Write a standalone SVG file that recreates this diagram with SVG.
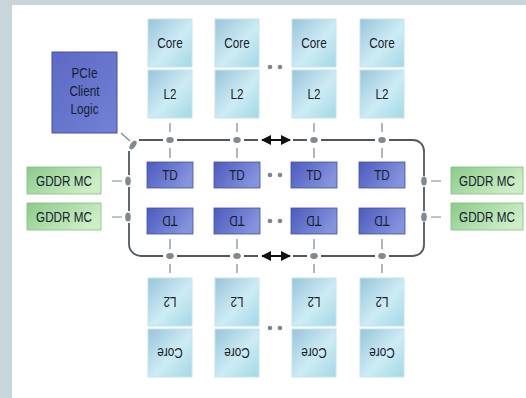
<svg xmlns="http://www.w3.org/2000/svg" width="526" height="398" viewBox="0 0 526 398">
  <defs>
    <linearGradient id="gCache" x1="0" y1="0" x2="1" y2="1">
      <stop offset="0" stop-color="#98c4da"/>
      <stop offset="0.55" stop-color="#cdecf4"/>
      <stop offset="1" stop-color="#a2d8e7"/>
    </linearGradient>
    <linearGradient id="gTD" x1="0" y1="0" x2="1" y2="0.4">
      <stop offset="0" stop-color="#4b5bbd"/>
      <stop offset="1" stop-color="#8393dd"/>
    </linearGradient>
    <linearGradient id="gPCIe" x1="0" y1="0" x2="1" y2="1">
      <stop offset="0" stop-color="#5c6ac5"/>
      <stop offset="1" stop-color="#7280d5"/>
    </linearGradient>
    <linearGradient id="gMC" x1="0" y1="0" x2="1" y2="0.5">
      <stop offset="0" stop-color="#8aca8a"/>
      <stop offset="1" stop-color="#cdeec5"/>
    </linearGradient>
    <marker id="ah" viewBox="0 0 10 10" refX="9" refY="5" markerWidth="5" markerHeight="5" orient="auto-start-reverse">
      <path d="M0,0 L10,5 L0,10 Z" fill="#111"/>
    </marker>
  </defs>
  <style>
    .cache { fill: url(#gCache); stroke: #c4e4ee; stroke-width: 1; }
    .td { fill: url(#gTD); stroke: #4150a8; stroke-width: 0.8; }
    .mc { fill: url(#gMC); stroke: #7fbf7f; stroke-width: 0.8; }
    .pcie { fill: url(#gPCIe); stroke: #44509f; stroke-width: 1; }
    .lbl { font-family: "Liberation Sans", Arial, sans-serif; font-size: 15px; fill: #18202e; text-anchor: middle; dominant-baseline: central; }
    .bus { stroke: #50585e; stroke-width: 1.8; fill: none; }
    .tap { stroke: #7e878d; stroke-width: 1.2; fill: none; }
    .dot { fill: #7d868c; }
    .ell { fill: #80898f; }
  </style>

  <!-- page background -->
  <rect x="0" y="0" width="526" height="398" fill="#c9d4db"/>
  <rect x="12" y="5" width="514" height="393" fill="#ffffff"/>

  <!-- ring bus, taps and junctions -->
  <g id="connectors">
    <!-- top bus segments -->
    <path class="bus" d="M139,140 H163 M177,140 H230 M244,140 H258 M293,140 H307 M321,140 H375 M389,140 H413 A11,11 0 0 1 424,151 V176"/>
    <!-- bottom bus segments -->
    <path class="bus" d="M424,187 V211 M424,222 V245 A11,11 0 0 1 413,256 H389 M375,256 H321 M307,256 H293 M258,256 H244 M230,256 H177 M163,256 H141 A12,12 0 0 1 129,244 V223 M129,211 V187 M129,175 V151"/>
    <!-- double arrows on the bus -->
    <line x1="262" y1="140" x2="290" y2="140" stroke="#111" stroke-width="2" marker-start="url(#ah)" marker-end="url(#ah)"/>
    <line x1="262" y1="256" x2="290" y2="256" stroke="#111" stroke-width="2" marker-start="url(#ah)" marker-end="url(#ah)"/>
    <!-- PCIe link -->
    <line class="tap" x1="121" y1="133" x2="130" y2="141"/>
    <ellipse class="ell" cx="133" cy="145" rx="2.6" ry="5" transform="rotate(35 133 145)"/>
    <!-- memory controller taps -->
    <path class="tap" d="M112,181 H122 M112,217 H122 M431,181 H441 M431,217 H441"/>
    <ellipse class="ell" cx="128" cy="181" rx="2.8" ry="4.6"/>
    <ellipse class="ell" cx="128" cy="217" rx="2.8" ry="4.6"/>
    <ellipse class="ell" cx="424" cy="181" rx="2.8" ry="4.6"/>
    <ellipse class="ell" cx="424" cy="217" rx="2.8" ry="4.6"/>
    <!-- column taps: L2 to bus to TD -->
    <path class="tap" d="M170,123 V132 M170,148 V158 M237,123 V132 M237,148 V158 M314,123 V132 M314,148 V158 M382,123 V132 M382,148 V158"/>
    <path class="tap" d="M170,239 V249 M170,264 V273 M237,239 V249 M237,264 V273 M314,239 V249 M314,264 V273 M382,239 V249 M382,264 V273"/>
    <g class="ell">
      <ellipse cx="170" cy="140" rx="3.8" ry="3"/>
      <ellipse cx="237" cy="140" rx="3.8" ry="3"/>
      <ellipse cx="314" cy="140" rx="3.8" ry="3"/>
      <ellipse cx="382" cy="140" rx="3.8" ry="3"/>
      <ellipse cx="170" cy="256" rx="3.8" ry="3"/>
      <ellipse cx="237" cy="256" rx="3.8" ry="3"/>
      <ellipse cx="314" cy="256" rx="3.8" ry="3"/>
      <ellipse cx="382" cy="256" rx="3.8" ry="3"/>
    </g>
    <!-- ellipsis dots between columns -->
    <g class="dot">
      <circle cx="270" cy="67" r="2.3"/><circle cx="280" cy="67" r="2.3"/>
      <circle cx="270" cy="175" r="2.3"/><circle cx="280" cy="175" r="2.3"/>
      <circle cx="270" cy="221" r="2.3"/><circle cx="280" cy="221" r="2.3"/>
      <circle cx="270" cy="328" r="2.3"/><circle cx="280" cy="328" r="2.3"/>
    </g>
  </g>

  <!-- PCIe client logic -->
  <g id="pcie">
    <rect class="pcie" x="52" y="52" width="65" height="81"/>
    <text class="lbl" transform="translate(84.5 73) scale(0.78 1)">PCIe</text>
    <text class="lbl" transform="translate(84.5 91) scale(0.78 1)">Client</text>
    <text class="lbl" transform="translate(84.5 109) scale(0.78 1)">Logic</text>
  </g>

  <!-- top cores and L2 caches -->
  <g id="core-t1"><rect class="cache" x="148" y="19" width="44" height="48"/><text class="lbl" transform="translate(170 43) scale(0.78 1)">Core</text></g>
  <g id="core-t2"><rect class="cache" x="215" y="19" width="44" height="48"/><text class="lbl" transform="translate(237 43) scale(0.78 1)">Core</text></g>
  <g id="core-t3"><rect class="cache" x="292" y="19" width="44" height="48"/><text class="lbl" transform="translate(314 43) scale(0.78 1)">Core</text></g>
  <g id="core-t4"><rect class="cache" x="360" y="19" width="44" height="48"/><text class="lbl" transform="translate(382 43) scale(0.78 1)">Core</text></g>
  <g id="l2-t1"><rect class="cache" x="148" y="70" width="44" height="48"/><text class="lbl" transform="translate(170 94) scale(0.78 1)">L2</text></g>
  <g id="l2-t2"><rect class="cache" x="215" y="70" width="44" height="48"/><text class="lbl" transform="translate(237 94) scale(0.78 1)">L2</text></g>
  <g id="l2-t3"><rect class="cache" x="292" y="70" width="44" height="48"/><text class="lbl" transform="translate(314 94) scale(0.78 1)">L2</text></g>
  <g id="l2-t4"><rect class="cache" x="360" y="70" width="44" height="48"/><text class="lbl" transform="translate(382 94) scale(0.78 1)">L2</text></g>

  <!-- texture units, top row -->
  <g id="td-t1"><rect class="td" x="147" y="162" width="46" height="26"/><text class="lbl" transform="translate(170 175) scale(0.78 1)">TD</text></g>
  <g id="td-t2"><rect class="td" x="214" y="162" width="46" height="26"/><text class="lbl" transform="translate(237 175) scale(0.78 1)">TD</text></g>
  <g id="td-t3"><rect class="td" x="291" y="162" width="46" height="26"/><text class="lbl" transform="translate(314 175) scale(0.78 1)">TD</text></g>
  <g id="td-t4"><rect class="td" x="359" y="162" width="46" height="26"/><text class="lbl" transform="translate(382 175) scale(0.78 1)">TD</text></g>

  <!-- texture units, bottom row (mirrored) -->
  <g id="td-b1"><rect class="td" x="147" y="208" width="46" height="26"/><text class="lbl" transform="translate(170 221) rotate(180) scale(0.78 1)">TD</text></g>
  <g id="td-b2"><rect class="td" x="214" y="208" width="46" height="26"/><text class="lbl" transform="translate(237 221) rotate(180) scale(0.78 1)">TD</text></g>
  <g id="td-b3"><rect class="td" x="291" y="208" width="46" height="26"/><text class="lbl" transform="translate(314 221) rotate(180) scale(0.78 1)">TD</text></g>
  <g id="td-b4"><rect class="td" x="359" y="208" width="46" height="26"/><text class="lbl" transform="translate(382 221) rotate(180) scale(0.78 1)">TD</text></g>

  <!-- bottom L2 caches and cores (mirrored) -->
  <g id="l2-b1"><rect class="cache" x="148" y="278" width="44" height="48"/><text class="lbl" transform="translate(170 302) rotate(180) scale(0.78 1)">L2</text></g>
  <g id="l2-b2"><rect class="cache" x="215" y="278" width="44" height="48"/><text class="lbl" transform="translate(237 302) rotate(180) scale(0.78 1)">L2</text></g>
  <g id="l2-b3"><rect class="cache" x="292" y="278" width="44" height="48"/><text class="lbl" transform="translate(314 302) rotate(180) scale(0.78 1)">L2</text></g>
  <g id="l2-b4"><rect class="cache" x="360" y="278" width="44" height="48"/><text class="lbl" transform="translate(382 302) rotate(180) scale(0.78 1)">L2</text></g>
  <g id="core-b1"><rect class="cache" x="148" y="329" width="44" height="48"/><text class="lbl" transform="translate(170 353) rotate(180) scale(0.78 1)">Core</text></g>
  <g id="core-b2"><rect class="cache" x="215" y="329" width="44" height="48"/><text class="lbl" transform="translate(237 353) rotate(180) scale(0.78 1)">Core</text></g>
  <g id="core-b3"><rect class="cache" x="292" y="329" width="44" height="48"/><text class="lbl" transform="translate(314 353) rotate(180) scale(0.78 1)">Core</text></g>
  <g id="core-b4"><rect class="cache" x="360" y="329" width="44" height="48"/><text class="lbl" transform="translate(382 353) rotate(180) scale(0.78 1)">Core</text></g>

  <!-- memory controllers -->
  <g id="mc-l1"><rect class="mc" x="27" y="167" width="74" height="27"/><text class="lbl" transform="translate(64 180.5) scale(0.78 1)">GDDR MC</text></g>
  <g id="mc-l2"><rect class="mc" x="27" y="203" width="74" height="27"/><text class="lbl" transform="translate(64 216.5) scale(0.78 1)">GDDR MC</text></g>
  <g id="mc-r1"><rect class="mc" x="451" y="167" width="72" height="27"/><text class="lbl" transform="translate(487 180.5) scale(0.78 1)">GDDR MC</text></g>
  <g id="mc-r2"><rect class="mc" x="451" y="203" width="72" height="27"/><text class="lbl" transform="translate(487 216.5) scale(0.78 1)">GDDR MC</text></g>
</svg>
